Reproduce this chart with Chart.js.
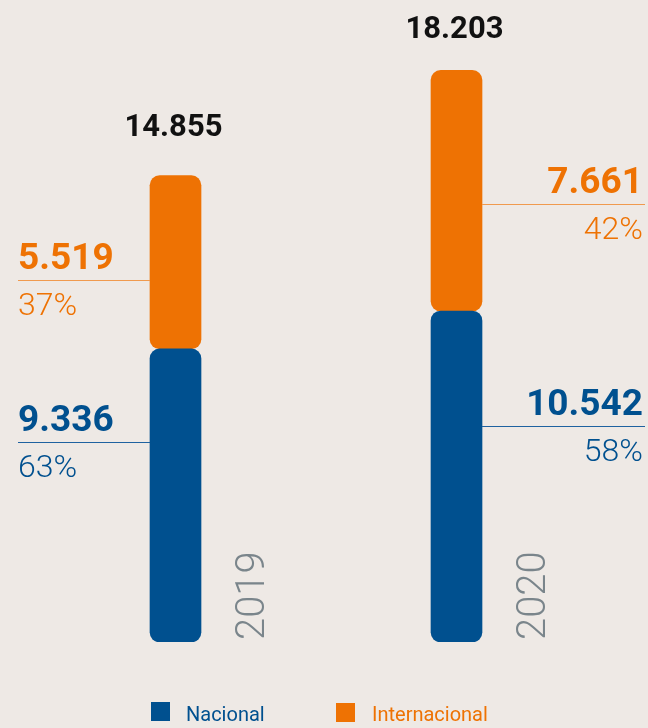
<!DOCTYPE html>
<html>
<head>
<meta charset="utf-8">
<script src="https://cdn.jsdelivr.net/npm/chart.js@4.4.1/dist/chart.umd.min.js"></script>
<style>
  body { margin: 0; background: #EEE9E5; }
  #wrap { width: 648px; height: 728px; }
</style>
</head>
<body>
<div id="wrap"><canvas id="myChart" width="648" height="728"></canvas></div>
<script>
// data
const years = ['2019', '2020'];
const nacional = [9336, 10542];
const internacional = [5519, 7661];
const seriesNames = ['Nacional', 'Internacional'];

const blue = '#00508F';
const orange = '#EE7203';
const bg = '#EEE9E5';
const gray = '#7A858B';

// where the callout line sits inside each segment (fraction from the top of the segment)
const calloutAt = {
  nacional: [0.32, 0.35],
  internacional: [0.61, 0.56]
};
const calloutSide = ['left', 'right'];
const totalGap = [40, 32];

function fmt(n) {
  return String(n).replace(/\B(?=(\d{3})+(?!\d))/g, '.');
}

// floating ranges so both segments get rounded corners (stacked bars only round the top one)
const nacRanges = nacional.map(v => [0, v]);
const intRanges = internacional.map((v, i) => [nacional[i], nacional[i] + v]);

const labelsPlugin = {
  id: 'labels',
  afterDatasetsDraw(chart) {
    const ctx = chart.ctx;
    const metaN = chart.getDatasetMeta(0);
    const metaI = chart.getDatasetMeta(1);

    years.forEach((yr, i) => {
      const total = nacional[i] + internacional[i];
      const barN = metaN.data[i];
      const barI = metaI.data[i];
      const half = barN.width / 2;

      ctx.save();
      // total above the bar
      ctx.fillStyle = '#111';
      ctx.font = 'bold 31px Roboto, "Liberation Sans", sans-serif';
      ctx.textAlign = 'center';
      ctx.textBaseline = 'alphabetic';
      ctx.fillText(fmt(total), barI.x - 2, barI.y - totalGap[i]);

      // callouts
      const segs = [
        { bar: barI, val: internacional[i], col: orange, line: '#F09A4E', f: calloutAt.internacional[i] },
        { bar: barN, val: nacional[i], col: blue, line: '#1F62A0', f: calloutAt.nacional[i] }
      ];
      segs.forEach(s => {
        const top = Math.min(s.bar.y, s.bar.base), bottom = Math.max(s.bar.y, s.bar.base);
        const ly = Math.round(top + s.f * (bottom - top)) - 0.5;
        let x0, x1, tx, align;
        if (calloutSide[i] === 'left') {
          x0 = 18; x1 = s.bar.x - half; tx = 18; align = 'left';
        } else {
          x0 = s.bar.x + half; x1 = 645; tx = 643; align = 'right';
        }
        ctx.strokeStyle = s.line;
        ctx.lineWidth = 1;
        ctx.beginPath();
        ctx.moveTo(x0, ly);
        ctx.lineTo(x1, ly);
        ctx.stroke();

        ctx.fillStyle = s.col;
        ctx.textAlign = align;
        ctx.font = 'bold 37px Roboto, "Liberation Sans", sans-serif';
        ctx.fillText(fmt(s.val), tx, ly - 12);
        ctx.font = '300 32px Roboto, "Liberation Sans", sans-serif';
        ctx.fillText(Math.round(s.val / total * 100) + '%', tx, ly + 34);
      });

      // year, rotated
      ctx.translate(barN.x + half + 63, barN.base - 2);
      ctx.rotate(-Math.PI / 2);
      ctx.fillStyle = gray;
      ctx.textAlign = 'left';
      ctx.font = '300 40px Roboto, "Liberation Sans", sans-serif';
      ctx.fillText(yr, 0, 0);
      ctx.restore();
    });

    // legend
    ctx.save();
    ctx.font = '20px Roboto, "Liberation Sans", sans-serif';
    ctx.textAlign = 'left';
    ctx.fillStyle = blue;
    ctx.fillRect(151, 702, 19, 19);
    ctx.fillText(seriesNames[0], 186, 721);
    ctx.fillStyle = orange;
    ctx.fillRect(336, 703, 19, 19);
    ctx.fillText(seriesNames[1], 372, 721);
    ctx.restore();
  }
};

const ctx = document.getElementById('myChart').getContext('2d');
const myChart = new Chart(ctx, {
  type: 'bar',
  data: {
    labels: years,
    datasets: [
      {
        label: seriesNames[0],
        data: nacRanges,
        backgroundColor: blue,
        borderRadius: 10,
        borderSkipped: false,
        barThickness: 51
      },
      {
        label: seriesNames[1],
        data: intRanges,
        backgroundColor: orange,
        borderRadius: 10,
        borderSkipped: false,
        barThickness: 51
      }
    ]
  },
  options: {
    responsive: false,
    animation: false,
    layout: { padding: { left: 35, right: 51, top: 14, bottom: 86 } },
    plugins: {
      legend: { display: false },
      tooltip: { enabled: false }
    },
    scales: {
      x: { stacked: true, display: false },
      y: { display: false, min: 0, max: 20000 }
    }
  },
  plugins: [labelsPlugin]
});
</script>
</body>
</html>
